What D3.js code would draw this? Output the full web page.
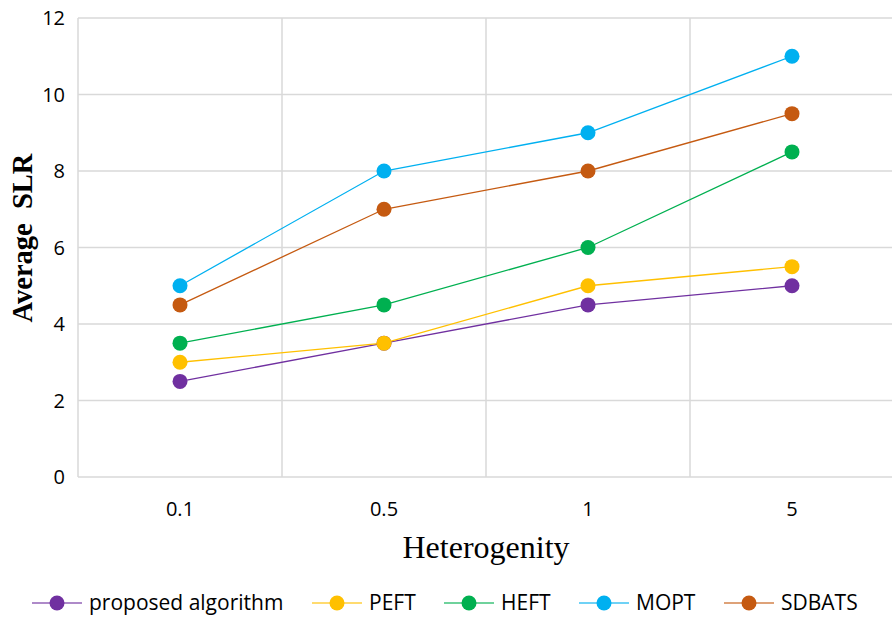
<!DOCTYPE html>
<html><head><meta charset="utf-8">
<script src="https://cdn.jsdelivr.net/npm/d3@7"></script>
<style>body{margin:0;background:#fff;}svg{display:block;}</style>
</head><body>
<svg id="c" width="892" height="618"></svg>
<script>
const categories = ["0.1", "0.5", "1", "5"];
const seriesNames = ["proposed algorithm", "PEFT", "HEFT", "MOPT", "SDBATS"];
const proposed = [2.5, 3.5, 4.5, 5];
const pefT = [3, 3.5, 5, 5.5];
const heft = [3.5, 4.5, 6, 8.5];
const mopt = [5, 8, 9, 11];
const sdbats = [4.5, 7, 8, 9.5];
const yTicks = [0, 2, 4, 6, 8, 10, 12];
const colors = ["#7030A0", "#FFC000", "#00B050", "#00B0F0", "#C55A11"];
const seriesValues = [proposed, pefT, heft, mopt, sdbats];

const svg = d3.select("#c");
const L = 78, R = 894, T = 18, B = 477;
const x = d3.scaleBand().domain(categories).range([L, R]);
const y = d3.scaleLinear().domain([0, 12]).range([B, T]);
const font = "'Open Sans', sans-serif";

// horizontal gridlines
svg.append("g").selectAll("line").data(yTicks).join("line")
  .attr("x1", L).attr("x2", 892).attr("y1", d => y(d)).attr("y2", d => y(d))
  .attr("stroke", "#d9d9d9").attr("stroke-width", 1.5);
// vertical gridlines at band boundaries
const bounds = categories.map(c => x(c));
svg.append("g").selectAll("line").data(bounds).join("line")
  .attr("x1", d => d).attr("x2", d => d).attr("y1", T).attr("y2", B)
  .attr("stroke", "#d9d9d9").attr("stroke-width", 1.5);

// y tick labels
svg.append("g").selectAll("text").data(yTicks).join("text")
  .attr("x", 65).attr("y", d => y(d)).attr("dy", "0.35em")
  .attr("text-anchor", "end").attr("font-family", font).attr("font-size", 20)
  .attr("fill", "#000").text(d => d);
// x tick labels
svg.append("g").selectAll("text").data(categories).join("text")
  .attr("x", d => x(d) + x.bandwidth() / 2).attr("y", 516)
  .attr("text-anchor", "middle").attr("font-family", font).attr("font-size", 20)
  .attr("fill", "#000").text(d => d);

// axis titles
svg.append("text").attr("transform", "translate(32,238) rotate(-90)")
  .attr("text-anchor", "middle").attr("font-family", "'Liberation Serif', 'Times New Roman', serif")
  .attr("font-weight", "bold").attr("font-size", 28.5)
  .style("white-space", "pre").text("Average  SLR");
svg.append("text").attr("x", 486).attr("y", 558)
  .attr("text-anchor", "middle").attr("font-family", "'Liberation Serif', 'Times New Roman', serif")
  .attr("font-size", 32).text("Heterogenity");

// lines and markers
const line = d3.line().x((d, i) => x(categories[i]) + x.bandwidth() / 2).y(d => y(d));
seriesValues.forEach((vals, si) => {
  const g = svg.append("g");
  g.append("path").datum(vals).attr("d", line).attr("fill", "none")
    .attr("stroke", colors[si]).attr("stroke-width", 1.3);
  g.selectAll("circle").data(vals).join("circle")
    .attr("cx", (d, i) => x(categories[i]) + x.bandwidth() / 2).attr("cy", d => y(d))
    .attr("r", 7.5).attr("fill", colors[si]);
});

// legend
const legendX = [57, 337, 469, 604, 749];
const ly = 603;
seriesNames.forEach((name, i) => {
  const g = svg.append("g");
  g.append("line").attr("x1", legendX[i] - 25).attr("x2", legendX[i] + 25)
    .attr("y1", ly).attr("y2", ly).attr("stroke", colors[i]).attr("stroke-width", 1.6).attr("opacity", 0.75);
  g.append("circle").attr("cx", legendX[i]).attr("cy", ly).attr("r", 7.5).attr("fill", colors[i]);
  g.append("text").attr("x", legendX[i] + 32).attr("y", ly).attr("dy", "0.35em")
    .attr("font-family", font).attr("font-size", 21).attr("fill", "#000").text(name);
});
</script>
</body></html>
